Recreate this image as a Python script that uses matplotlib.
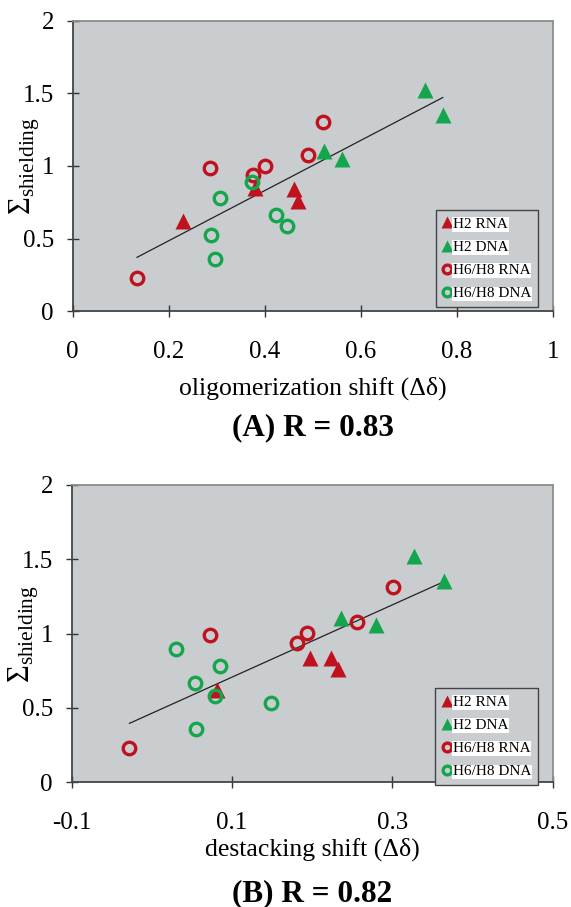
import numpy as np
import matplotlib
matplotlib.use('Agg')
import matplotlib.pyplot as plt

plt.rcParams['font.family'] = ['Liberation Serif', 'DejaVu Serif']
plt.rcParams['mathtext.fontset'] = 'custom'
plt.rcParams['mathtext.rm'] = 'Liberation Serif'
plt.rcParams['mathtext.it'] = 'Liberation Serif'

RED = '#c0121e'
GREEN = '#14a64c'
BG = '#c9cdd0'

# Panel A: oligomerization shift vs shielding
a_h2_rna_x = [0.23, 0.38, 0.46, 0.47]
a_h2_rna_y = [0.62, 0.85, 0.84, 0.76]
a_h2_dna_x = [0.734, 0.771, 0.524, 0.560]
a_h2_dna_y = [1.52, 1.35, 1.10, 1.05]
a_h68_rna_x = [0.134, 0.286, 0.375, 0.400, 0.491, 0.522]
a_h68_rna_y = [0.23, 0.984, 0.938, 0.998, 1.075, 1.306]
a_h68_dna_x = [0.373, 0.306, 0.2875, 0.297, 0.423, 0.446]
a_h68_dna_y = [0.893, 0.778, 0.527, 0.358, 0.66, 0.584]

# Panel B: destacking shift vs shielding
b_h2_rna_x = [0.081, 0.197, 0.224, 0.232]
b_h2_rna_y = [0.62, 0.839, 0.839, 0.762]
b_h2_dna_x = [0.327, 0.364, 0.236, 0.280]
b_h2_dna_y = [1.522, 1.354, 1.108, 1.056]
b_h68_rna_x = [-0.028, 0.073, 0.181, 0.194, 0.256, 0.301]
b_h68_rna_y = [0.233, 0.991, 0.939, 1.002, 1.081, 1.312]
b_h68_dna_x = [0.030, 0.085, 0.054, 0.079, 0.055, 0.148]
b_h68_dna_y = [0.897, 0.783, 0.666, 0.583, 0.359, 0.531]

labels = ['H2 RNA', 'H2 DNA', 'H6/H8 RNA', 'H6/H8 DNA']


def panel(ax, series, xlim, xticks, xticklabels, xlabel, title, xl_y, t_y, leg_y):
    ax.set_facecolor(BG)
    styles = [('^', RED, True), ('^', GREEN, True), ('o', RED, False), ('o', GREEN, False)]
    allx, ally = [], []
    for (xs, ys), (m, c, filled), lab in zip(series, styles, labels):
        if filled:
            ax.plot(xs, ys, m, color=c, ms=12, mec='none', ls='none', label=lab, zorder=3)
        else:
            ax.plot(xs, ys, m, mfc='none', mec=c, mew=2.4, ms=9, ls='none', label=lab, zorder=3)
        allx += xs
        ally += ys
    allx = np.array(allx)
    ally = np.array(ally)
    # least-squares line over the data range
    k, b = np.polyfit(allx, ally, 1)
    xx = np.array([allx.min(), allx.max()])
    ax.plot(xx, k * xx + b, color='#222222', lw=0.9, zorder=2)

    ax.set_xlim(*xlim)
    ax.set_ylim(0, 2)
    ax.set_xticks(xticks)
    ax.set_xticklabels(xticklabels)
    ax.set_yticks([0, 0.5, 1, 1.5, 2])
    ax.set_yticklabels(['0', '0.5', '1', '1.5', '2'])
    ax.tick_params(direction='inout', length=9, width=1, labelsize=18, color='#333333')
    ax.tick_params(axis='x', pad=17)
    ax.tick_params(axis='y', pad=9)
    for s in ['left', 'bottom']:
        ax.spines[s].set_color('#444444')
        ax.spines[s].set_linewidth(1.3)
    for s in ['top', 'right']:
        ax.spines[s].set_color('#8a8f8c')
        ax.spines[s].set_linewidth(1.3)

    ax.set_ylabel(r'$\Sigma_{\mathrm{shielding}}$', fontsize=22)
    ax.yaxis.set_label_coords(-0.1, 0.5)
    ax.yaxis.label.set_va('center')
    ax.set_xlabel(xlabel, fontsize=18.5)
    ax.xaxis.set_label_coords(0.5, xl_y)
    ax.xaxis.label.set_va('center')
    ax.text(0.5, t_y, title, transform=ax.transAxes, ha='center', va='center',
            fontsize=22.5, fontweight='bold')

    leg = ax.legend(loc='lower right', bbox_to_anchor=(0.97, leg_y), fontsize=11,
                    markerscale=0.7, handlelength=0.6, handletextpad=0.1,
                    labelspacing=0.62, borderpad=0.45, borderaxespad=0,
                    frameon=True, fancybox=False, facecolor=BG, edgecolor='#444444',
                    framealpha=1)
    leg.get_frame().set_linewidth(1.0)
    for t in leg.get_texts():
        t.set_bbox(dict(facecolor='white', edgecolor='none', pad=0.5))


fig = plt.figure(figsize=(5.71, 9.07), dpi=100)
axA = fig.add_axes([0.1273, 0.6568, 0.8407, 0.3204])
axB = fig.add_axes([0.1256, 0.1375, 0.8424, 0.3278])

panel(axA,
      [(a_h2_rna_x, a_h2_rna_y), (a_h2_dna_x, a_h2_dna_y),
       (a_h68_rna_x, a_h68_rna_y), (a_h68_dna_x, a_h68_dna_y)],
      (0, 1), [0, 0.2, 0.4, 0.6, 0.8, 1], ['0', '0.2', '0.4', '0.6', '0.8', '1'],
      'oligomerization shift (\u0394\u03b4)', '(A) R = 0.83', -0.266, -0.40, 0.014)

panel(axB,
      [(b_h2_rna_x, b_h2_rna_y), (b_h2_dna_x, b_h2_dna_y),
       (b_h68_rna_x, b_h68_rna_y), (b_h68_dna_x, b_h68_dna_y)],
      (-0.1, 0.5), [-0.1, 0.1, 0.3, 0.5], ['-0.1', '0.1', '0.3', '0.5'],
      'destacking shift (\u0394\u03b4)', '(B) R = 0.82', -0.225, -0.375, -0.01)

fig.savefig('out.png', dpi=100, facecolor='white')
